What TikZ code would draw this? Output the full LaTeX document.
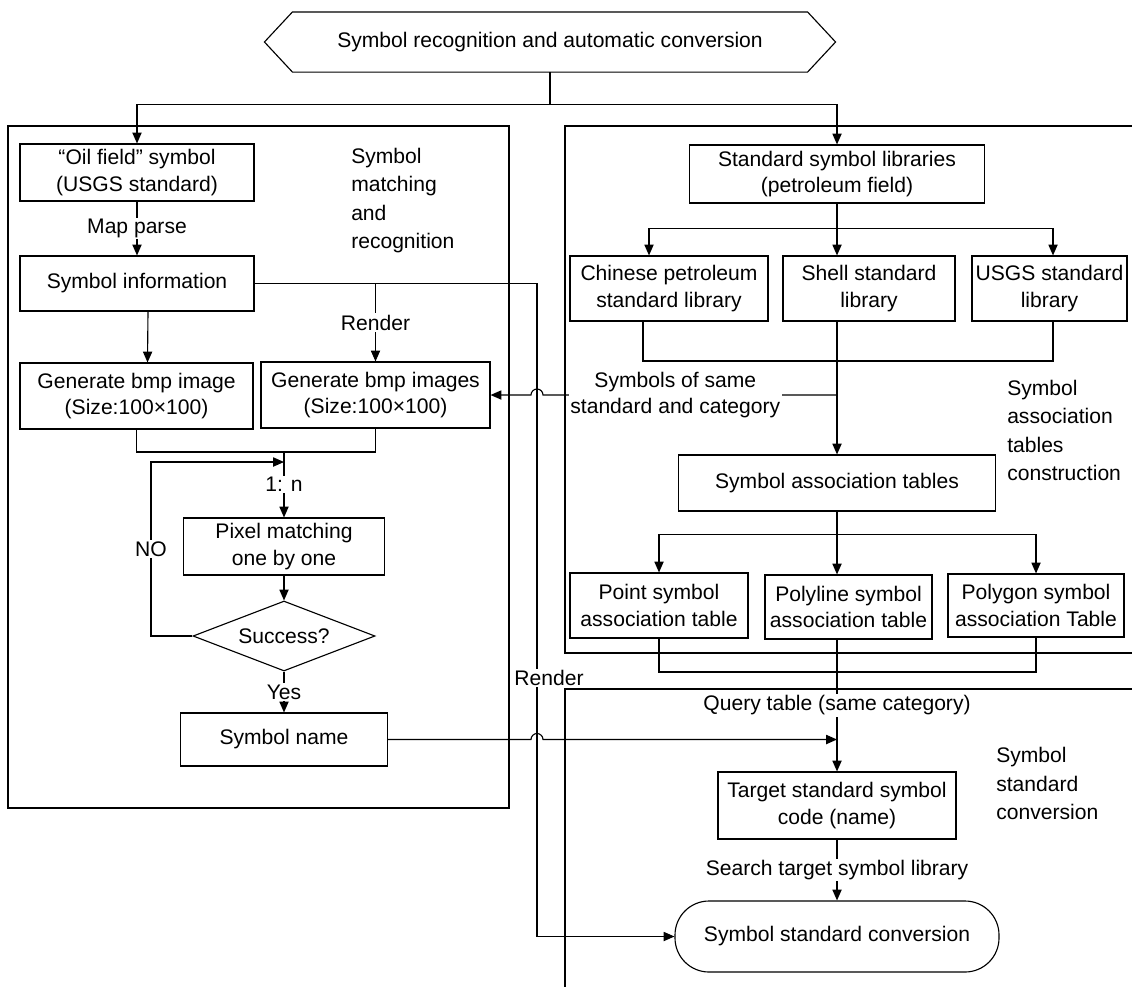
\documentclass[tikz,border=0pt]{standalone}
\usepackage{fontspec}
\setmainfont{Liberation Sans}
\usetikzlibrary{arrows.meta,shapes.geometric,calc}

\begin{document}
\begin{tikzpicture}[line width=0.8pt,>={Triangle[length=2.7mm,width=2.3mm]},
  font=\fontsize{15}{19}\selectfont,
  box/.style={draw,align=center,inner sep=1pt},
  lbl/.style={fill=white,inner sep=1pt,align=center},
  side/.style={anchor=west,align=left,font=\fontsize{15}{20}\selectfont}]
  \useasboundingbox (0,0) rectangle (28.3,-24.675);
  % marcos de las tres etapas
  \draw (0.2,-3.15) rectangle (12.725,-20.2);
  \draw (28.3,-3.15) -- (14.125,-3.15) -- (14.125,-16.325) -- (28.3,-16.325);
  \draw (28.3,-17.225) -- (14.125,-17.225) -- (14.125,-24.675);
  % titulo (hexagono)
  \node[minimum width=12.85cm,minimum height=1.475cm,inner sep=0pt] (title) at (13.75,-1.05) {Symbol recognition and automatic conversion};
  \draw (title.north west) -- (title.north east) -- ($(title.east)+(0.7,0)$) -- (title.south east) -- (title.south west) -- ($(title.west)+(-0.7,0)$) -- cycle;
  % etapa 1: reconocimiento
  \node[box,minimum width=5.85cm,minimum height=1.425cm] (oil) at (3.425,-4.3125) {“Oil field” symbol\\(USGS standard)};
  \node[box,minimum width=5.85cm,minimum height=1.375cm] (info) at (3.425,-7.0875) {Symbol information};
  \node[box,minimum width=5.825cm,minimum height=1.65cm] (genA) at (3.4125,-9.9) {Generate bmp image\\(Size:100×100)};
  \node[box,minimum width=5.725cm,minimum height=1.65cm] (genB) at (9.3875,-9.875) {Generate bmp images\\(Size:100×100)};
  \node[box,minimum width=5.025cm,minimum height=1.425cm] (pix) at (7.1,-13.6625) {Pixel matching\\one by one};
  \node[draw,diamond,aspect=2.6,minimum width=4.55cm,minimum height=1.75cm,inner sep=0pt] (succ) at (7.1,-15.9) {Success?};
  \node[box,minimum width=5.175cm,minimum height=1.325cm] (name) at (7.1,-18.4875) {Symbol name};
  \node[side] (sideA) at (8.65,-5.0125) {Symbol\\matching\\and\\recognition};
  % etapa 2: tablas de asociacion
  \node[box,minimum width=7.375cm,minimum height=1.45cm] (std) at (20.925,-4.35) {Standard symbol libraries\\(petroleum field)};
  \node[box,minimum width=4.95cm,minimum height=1.625cm] (chin) at (16.725,-7.2125) {Chinese petroleum\\standard library};
  \node[box,minimum width=4.3cm,minimum height=1.625cm] (shell) at (21.725,-7.2125) {Shell standard\\library};
  \node[box,minimum width=3.875cm,minimum height=1.625cm] (usgs) at (26.2375,-7.2125) {USGS standard\\library};
  \node[box,minimum width=7.925cm,minimum height=1.4cm] (assoc) at (20.925,-12.075) {Symbol association tables};
  \node[box,minimum width=4.45cm,minimum height=1.625cm] (point) at (16.475,-15.1375) {Point symbol\\association table};
  \node[box,minimum width=4.175cm,minimum height=1.6cm] (poly) at (21.2125,-15.175) {Polyline symbol\\association table};
  \node[box,minimum width=4.4cm,minimum height=1.575cm] (polyg) at (25.9,-15.1375) {Polygon symbol\\association Table};
  \node[side] (sideB) at (25.05,-10.7625) {Symbol\\association\\tables\\construction};
  % etapa 3: conversion
  \node[box,minimum width=5.95cm,minimum height=1.675cm] (target) at (20.925,-20.1375) {Target standard symbol\\code (name)};
  \node[box,rounded corners=0.85cm,minimum width=8.1cm,minimum height=1.775cm] (term) at (20.925,-23.4125) {Symbol standard conversion};
  \node[side] (sideC) at (24.775,-19.5875) {Symbol\\standard\\conversion};
  % reparto desde el titulo
  \draw (title.south) -- ++(0,-0.8125) coordinate (tj);
  \draw[->] (tj) -| (oil.north);
  \draw[->] (tj) -| (std.north);
  % flujo de la etapa 1
  \draw[->] (oil) -- node[lbl]{Map parse} (info);
  \draw[->] ([xshift=2.75mm]info.south) -- ([xshift=2.75mm]genA.north);
  \draw[->] (info.east -| genB.north) -- node[lbl]{Render} (genB.north);
  \draw[->] (info.east) -| (13.425,-16.95) node[lbl,xshift=0.3cm]{Render} |- (term.west);
  \coordinate (mj) at (7.1,-11.3);
  \coordinate (loop) at (7.1,-11.55);
  \draw (genA.south) |- (mj) -| (genB.south);
  \draw[->] (mj) -- node[lbl]{1: n} (pix.north);
  \draw[->] (pix) -- (succ);
  \draw[->] (succ.west) -| node[lbl,pos=0.75]{NO} (3.775,-11.55) -- (loop);
  \draw[->] (succ) -- node[lbl]{Yes} (name);
  % flujo de la etapa 2
  \draw (std.south) -- ++(0,-0.625) coordinate (sj);
  \draw[->] (sj) -| ([xshift=-5mm]chin.north);
  \draw[->] (sj) -- (sj |- shell.north);
  \draw[->] (sj) -| ([xshift=0.875mm]usgs.north);
  \coordinate (lm) at (20.925,-9.025);
  \draw ([xshift=-6.5mm]chin.south) |- (lm) -| ([xshift=0.875mm]usgs.south);
  \draw[->] (sj |- shell.south) -- (assoc.north);
  \draw[->] (sj |- genB.east) -- node[lbl,pos=0.55]{Symbols of same\\standard and category} (13.575,-9.875) arc (0:180:0.15) -- (genB.east);
  \draw (assoc.south) -- ++(0,-0.575) coordinate (aj);
  \draw[->] (aj) -| (point.north);
  \draw[->] (aj) -- (aj |- poly.north);
  \draw[->] (aj) -| (polyg.north);
  \coordinate (tm) at (20.925,-16.8);
  \draw (point.south) |- (tm) -| (polyg.south);
  % flujo de la etapa 3
  \draw[->] (aj |- poly.south) -- node[lbl]{Query table (same category)} (target.north);
  \draw[->] (name.east) -- (13.275,-18.4875) arc (180:0:0.15) -- (name.east -| target.north);
  \draw[->] (target) -- node[lbl]{Search target symbol library} (term);
\end{tikzpicture}
\end{document}
